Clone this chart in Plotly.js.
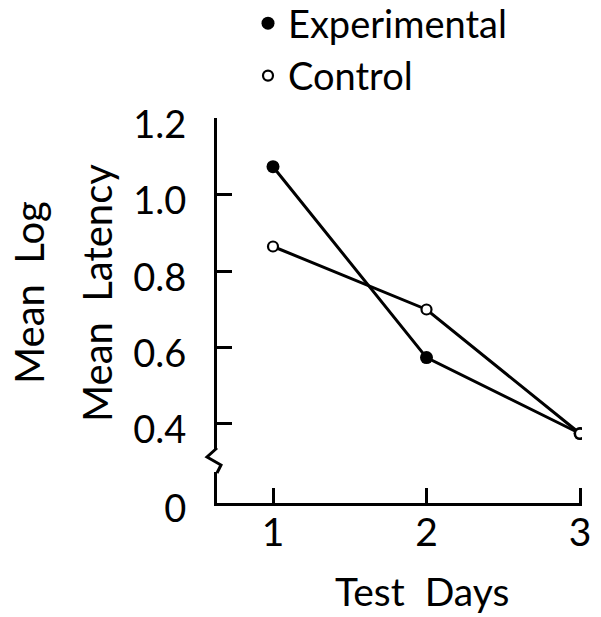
<!DOCTYPE html>
<html>
<head>
<meta charset="utf-8">
<script src="https://cdn.plot.ly/plotly-3.0.1.min.js"></script>
<style>html,body{margin:0;padding:0;background:#fff;}#chart{width:601px;height:617px;}</style>
</head>
<body>
<div id="chart"></div>
<script>
// ---- data ----
var testDays = [1, 2, 3];
var experimental = [1.074, 0.574, 0.375];
var control = [0.865, 0.700, 0.375];
var seriesNames = ["Experimental", "Control"];
var xTickVals = [1, 2, 3];
var xTickText = ["1", "2", "3"];
var yBreakBase = 0.193;           // axis position where the broken axis shows "0"
var yTickVals = [yBreakBase, 0.4, 0.6, 0.8, 1.0, 1.2];
var yTickText = ["0", "0.4", "0.6", "0.8", "1.0", "1.2"];

// ---- layout helpers ----
var W = 601, H = 617;
var M = {l: 217, r: 19, t: 118, b: 114, autoexpand: false};
var PW = W - M.l - M.r, PH = H - M.t - M.b;
function px2x(px) { return (px - M.l) / PW; }
function py2y(py) { return (H - M.b - py) / PH; }
var FONT = "Lato, 'Noto Sans', sans-serif";

var traces = [
  {x: testDays, y: experimental, mode: "lines", line: {color: "#000", width: 3}, showlegend: false, hoverinfo: "skip"},
  {x: testDays, y: control, mode: "lines", line: {color: "#000", width: 3}, showlegend: false, hoverinfo: "skip"},
  {x: testDays, y: experimental, mode: "markers", name: seriesNames[0],
   marker: {symbol: "circle", size: 13, color: "#000", line: {width: 0}}},
  {x: testDays, y: control, mode: "markers", name: seriesNames[1],
   marker: {symbol: "circle", size: 10, color: "#fff", line: {width: 2.2, color: "#000"}}}
];

var zig = "M " + px2x(217) + "," + py2y(448) +
          " L " + px2x(207) + "," + py2y(457) +
          " L " + px2x(221) + "," + py2y(465) +
          " L " + px2x(217) + "," + py2y(473);

var layout = {
  width: W, height: H,
  margin: M,
  paper_bgcolor: "#fff", plot_bgcolor: "#fff",
  font: {family: FONT, color: "#000", size: 36},
  showlegend: true,
  legend: {x: px2x(248), y: py2y(-8), xanchor: "left", yanchor: "top",
           font: {family: FONT, size: 38, color: "#000"},
           bgcolor: "rgba(0,0,0,0)", borderwidth: 0, tracegroupgap: 0, itemclick: false},
  xaxis: {
    range: [1 - 56 / 153.5, 3 + 2 / 153.5],
    tickmode: "array", tickvals: xTickVals, ticktext: xTickText,
    ticks: "inside", ticklen: 15, tickwidth: 3, tickcolor: "#000",
    showline: true, linewidth: 3, linecolor: "#000",
    showgrid: false, zeroline: false,
    tickfont: {family: FONT, size: 39, color: "#000"},
    ticklabelstandoff: -7
  },
  yaxis: {
    range: [yBreakBase, yBreakBase + PH / 381.7],
    tickmode: "array", tickvals: yTickVals, ticktext: yTickText,
    ticks: "inside", ticklen: 15, tickwidth: 3, tickcolor: "#000",
    showline: true, linewidth: 3, linecolor: "#000",
    showgrid: false, zeroline: false,
    tickfont: {family: FONT, size: 38, color: "#000"},
    ticklabelstandoff: 20, ticklabelshift: 6
  },
  shapes: [
    {type: "line", xref: "paper", yref: "paper", x0: 0, x1: 0, y0: py2y(449), y1: py2y(472),
     line: {color: "#fff", width: 6}, layer: "above"},
    {type: "path", xref: "paper", yref: "paper", path: zig,
     line: {color: "#000", width: 3}, layer: "above"}
  ],
  annotations: [
    {text: "Mean  Log", xref: "paper", yref: "paper", x: px2x(29), y: py2y(293),
     xanchor: "center", yanchor: "middle", textangle: -90, showarrow: false,
     font: {family: FONT, size: 40, color: "#000"}},
    {text: "Mean  Latency", xref: "paper", yref: "paper", x: px2x(97), y: py2y(293),
     xanchor: "center", yanchor: "middle", textangle: -90, showarrow: false,
     font: {family: FONT, size: 40, color: "#000"}},
    {text: "Test  Days", xref: "paper", yref: "paper", x: px2x(422), y: py2y(591),
     xanchor: "center", yanchor: "middle", showarrow: false,
     font: {family: FONT, size: 39, color: "#000"}}
  ]
};

Plotly.newPlot("chart", traces, layout, {staticPlot: true, displayModeBar: false});
</script>
</body>
</html>
